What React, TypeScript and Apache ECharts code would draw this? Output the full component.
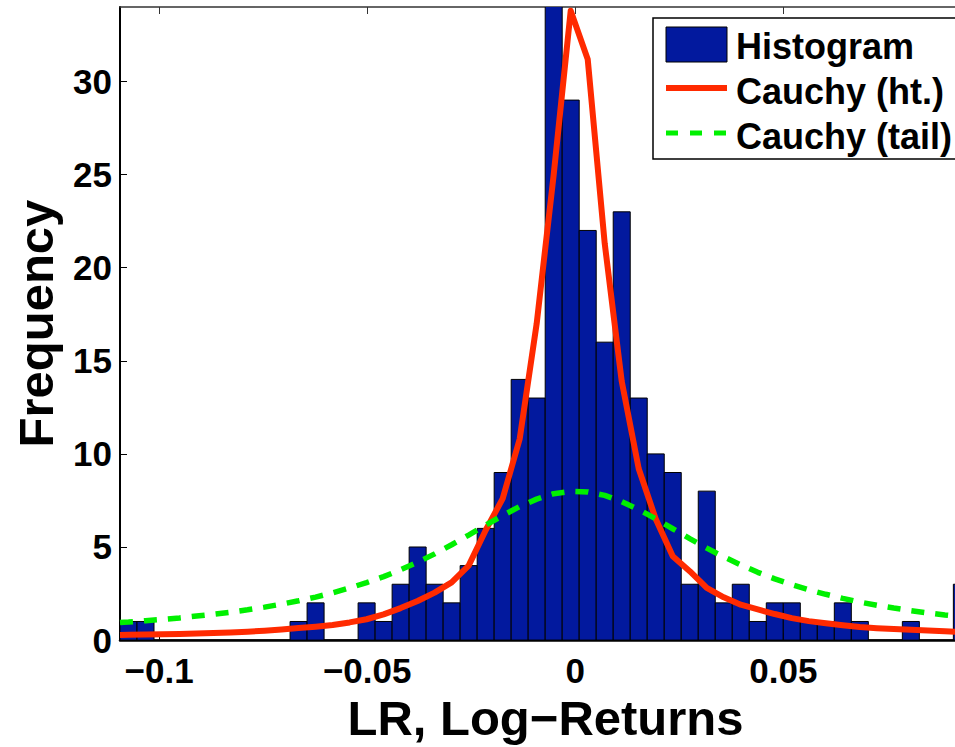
import React, { useEffect, useRef } from 'react';
import * as echarts from 'echarts';

// Histogram bins (regular width) and their counts
const BIN_START = -0.1094;
const BIN_WIDTH = 0.004087;
const X_MIN = -0.1094;
const X_MAX = 0.0951;
const Y_MIN = 0;
const Y_MAX = 34;

const COUNTS = [
  1, 1, 0, 0, 0, 0, 0, 0, 0, 0,
  1, 2, 0, 0, 2, 1, 3, 5, 3, 2,
  4, 6, 9, 14, 13, 36, 29, 22, 16, 23,
  13, 10, 9, 3, 8, 2, 3, 1, 2, 2,
  1, 1, 2, 1, 0, 0, 1, 0, 0, 3,
];

// Fitted curves, read at the bin centres
const CAUCHY_HT = [
  0.29, 0.30, 0.31, 0.33, 0.35, 0.38, 0.41, 0.45, 0.50, 0.57,
  0.65, 0.72, 0.81, 0.95, 1.12, 1.38, 1.72, 2.10, 2.55, 3.10,
  4.00, 5.90, 7.60, 10.8, 17.0, 25.0, 33.8, 31.2, 21.3, 13.9,
  9.20, 6.50, 4.50, 3.70, 2.80, 2.30, 1.90, 1.65, 1.40, 1.18,
  1.02, 0.90, 0.80, 0.70, 0.64, 0.60, 0.55, 0.52, 0.47, 0.44,
];

const CAUCHY_TAIL = [
  0.97, 1.04, 1.11, 1.19, 1.29, 1.39, 1.50, 1.63, 1.77, 1.93,
  2.11, 2.31, 2.54, 2.80, 3.09, 3.41, 3.78, 4.18, 4.63, 5.12,
  5.64, 6.17, 6.69, 7.17, 7.57, 7.86, 7.99, 7.96, 7.77, 7.44,
  7.01, 6.51, 5.98, 5.45, 4.94, 4.47, 4.04, 3.64, 3.29, 2.98,
  2.70, 2.46, 2.24, 2.04, 1.87, 1.72, 1.58, 1.46, 1.35, 1.25,
];

// Curve values read at the two ends of the x range
const CAUCHY_HT_ENDS = [0.28, 0.43];
const CAUCHY_TAIL_ENDS = [0.94, 1.22];

const X_TICKS = [-0.1, -0.05, 0, 0.05];
const Y_TICKS = [0, 5, 10, 15, 20, 25, 30];
const SERIES_NAMES = ['Histogram', 'Cauchy (ht.)', 'Cauchy (tail)'];
const X_NAME = 'LR, Log\u2212Returns';
const Y_NAME = 'Frequency';

const FONT = '"Liberation Sans", Arial, Helvetica, sans-serif';
const BAR_COLOR = '#02199e';
const RED = '#ff2a00';
const GREEN = '#00f000';

export default function App() {
  const ref = useRef<HTMLDivElement>(null);

  useEffect(() => {
    if (!ref.current) return;
    const chart = echarts.init(ref.current, null, { renderer: 'svg' });

    const histData = COUNTS.map((c, i) => [
      BIN_START + i * BIN_WIDTH,
      BIN_START + (i + 1) * BIN_WIDTH,
      c,
    ]);
    const centers = COUNTS.map((_, i) => BIN_START + (i + 0.5) * BIN_WIDTH);
    const htData = [
      [X_MIN, CAUCHY_HT_ENDS[0]],
      ...CAUCHY_HT.map((v, i) => [centers[i], v]),
      [X_MAX, CAUCHY_HT_ENDS[1]],
    ];
    const tailData = [
      [X_MIN, CAUCHY_TAIL_ENDS[0]],
      ...CAUCHY_TAIL.map((v, i) => [centers[i], v]),
      [X_MAX, CAUCHY_TAIL_ENDS[1]],
    ];

    const fmtX = (v: number) => String(v).replace('-', '\u2212');

    const legendX = 653;
    const legendY = 18;
    const legendFont = `bold 36px ${FONT}`;

    chart.setOption({
      animation: false,
      backgroundColor: '#ffffff',
      textStyle: { fontFamily: FONT },
      grid: { left: 120, top: 7, right: 4, bottom: 94, containLabel: false },
      xAxis: [
        {
          type: 'value',
          min: X_MIN,
          max: X_MAX,
          position: 'bottom',
          name: X_NAME,
          nameLocation: 'middle',
          nameGap: 44,
          nameTextStyle: { fontSize: 49, fontWeight: 'bold', color: '#000', fontFamily: FONT },
          axisLine: { show: true, onZero: false, lineStyle: { color: '#000', width: 2.5 } },
          axisTick: { show: true, inside: true, length: 7, customValues: X_TICKS, lineStyle: { color: '#000' } },
          axisLabel: {
            show: true,
            customValues: X_TICKS,
            fontSize: 35,
            fontWeight: 'bold',
            color: '#000',
            margin: 13,
            fontFamily: FONT,
            formatter: fmtX,
          },
          splitLine: { show: false },
        },
        {
          type: 'value',
          min: X_MIN,
          max: X_MAX,
          position: 'top',
          axisLine: { show: true, onZero: false, lineStyle: { color: '#333', width: 1.5 } },
          axisTick: { show: true, inside: true, length: 7, customValues: X_TICKS, lineStyle: { color: '#333' } },
          axisLabel: { show: false },
          splitLine: { show: false },
        },
      ],
      yAxis: [
        {
          type: 'value',
          min: Y_MIN,
          max: Y_MAX,
          name: Y_NAME,
          nameLocation: 'middle',
          nameGap: 60,
          nameTextStyle: { fontSize: 49, fontWeight: 'bold', color: '#000', fontFamily: FONT },
          axisLine: { show: true, onZero: false, lineStyle: { color: '#000', width: 2 } },
          axisTick: { show: true, inside: true, length: 7, customValues: Y_TICKS, lineStyle: { color: '#000' } },
          axisLabel: {
            show: true,
            customValues: Y_TICKS,
            fontSize: 35,
            fontWeight: 'bold',
            color: '#000',
            margin: 8,
            fontFamily: FONT,
          },
          splitLine: { show: false },
        },
      ],
      series: [
        {
          name: SERIES_NAMES[0],
          type: 'custom',
          clip: true,
          data: histData,
          encode: { x: [0, 1], y: 2 },
          z: 2,
          renderItem: (params: any, api: any) => {
            const p0 = api.coord([api.value(0), api.value(2)]);
            const p1 = api.coord([api.value(1), 0]);
            return {
              type: 'rect',
              shape: { x: p0[0], y: p0[1], width: p1[0] - p0[0], height: p1[1] - p0[1] },
              style: { fill: BAR_COLOR, stroke: '#000', lineWidth: 1 },
            };
          },
        },
        {
          name: SERIES_NAMES[1],
          type: 'line',
          data: htData,
          showSymbol: false,
          symbol: 'none',
          clip: true,
          z: 3,
          lineStyle: { color: RED, width: 6, join: 'round', cap: 'butt' },
          itemStyle: { color: RED },
        },
        {
          name: SERIES_NAMES[2],
          type: 'line',
          data: tailData,
          showSymbol: false,
          symbol: 'none',
          smooth: false,
          clip: true,
          z: 4,
          lineStyle: { color: GREEN, width: 5.5, type: [13, 11] },
          itemStyle: { color: GREEN },
        },
      ],
      graphic: [
        {
          type: 'group',
          z: 100,
          children: [
            {
              type: 'rect',
              shape: { x: legendX, y: legendY, width: 330, height: 141 },
              style: { fill: '#fff', stroke: '#000', lineWidth: 1.5 },
            },
            {
              type: 'rect',
              shape: { x: 666, y: 27, width: 61, height: 35 },
              style: { fill: BAR_COLOR, stroke: '#000', lineWidth: 1 },
            },
            {
              type: 'line',
              shape: { x1: 666, y1: 88, x2: 727, y2: 88 },
              style: { stroke: RED, lineWidth: 6 },
            },
            {
              type: 'line',
              shape: { x1: 666, y1: 133, x2: 727, y2: 133 },
              style: { stroke: GREEN, lineWidth: 5, lineDash: [12, 12] },
            },
            {
              type: 'text',
              x: 736,
              y: 46,
              style: { text: SERIES_NAMES[0], font: legendFont, fill: '#000', verticalAlign: 'middle', align: 'left' },
            },
            {
              type: 'text',
              x: 736,
              y: 91,
              style: { text: SERIES_NAMES[1], font: legendFont, fill: '#000', verticalAlign: 'middle', align: 'left' },
            },
            {
              type: 'text',
              x: 736,
              y: 136,
              style: { text: SERIES_NAMES[2], font: legendFont, fill: '#000', verticalAlign: 'middle', align: 'left' },
            },
          ],
        },
      ],
    });

    return () => {
      chart.dispose();
    };
  }, []);

  return (
    <div
      style={{
        position: 'fixed',
        left: 0,
        top: 0,
        width: 955,
        height: 747,
        overflow: 'hidden',
        background: '#fff',
      }}
    >
      <div ref={ref} style={{ width: 975, height: 747 }} />
    </div>
  );
}
